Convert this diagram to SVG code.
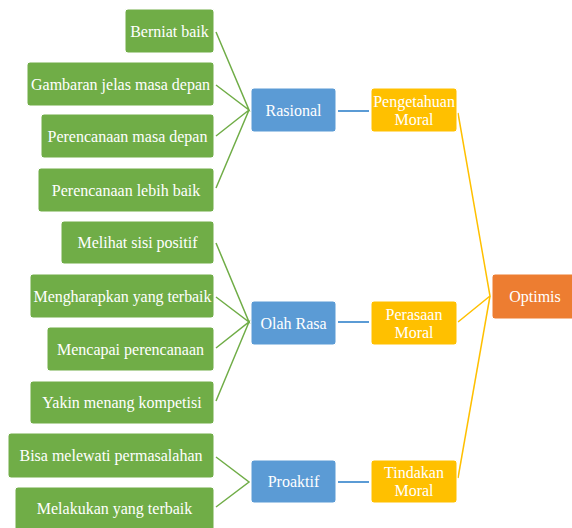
<svg xmlns="http://www.w3.org/2000/svg" width="572" height="528" viewBox="0 0 572 528">
<style>
  .g rect{fill:#70AD47;stroke:#fff;stroke-width:1}
  .b rect{fill:#5B9BD5;stroke:#fff;stroke-width:1}
  .y rect{fill:#FFC000;stroke:#fff;stroke-width:1}
  .o rect{fill:#ED7D31;stroke:#fff;stroke-width:1}
  text{font-size:16px;fill:#fff;text-anchor:middle;dominant-baseline:central}
  .lg{stroke:#70AD47;stroke-width:1.5;fill:none}
  .lb{stroke:#5B9BD5;stroke-width:2;fill:none}
  .ly{stroke:#FFC000;stroke-width:1.5;fill:none}
</style>
<rect width="572" height="528" fill="#fff"/>
<g id="connectors">
  <polyline class="lg" points="216,32 249,110 216,85"/>
  <polyline class="lg" points="216,136 249,110 216,188"/>
  <polyline class="lg" points="216,243 249,322 216,297"/>
  <polyline class="lg" points="216,348 249,322 216,401"/>
  <polyline class="lg" points="216,457 249,482 216,507"/>
  <line class="lb" x1="338" y1="111" x2="369" y2="111"/>
  <line class="lb" x1="338" y1="322" x2="369" y2="322"/>
  <line class="lb" x1="338" y1="482" x2="369" y2="482"/>
  <polyline class="ly" points="458,113 490,296 458,322"/>
  <line class="ly" x1="458" y1="478" x2="490" y2="296"/>
</g>
<g font-family="'Liberation Serif', 'DejaVu Serif', serif">
<g id="n1" class="g"><rect x="125" y="9" width="89" height="44" rx="3"/><text x="169.5" y="31">Berniat baik</text></g>
<g id="n2" class="g"><rect x="27" y="62" width="187" height="44" rx="3"/><text x="120.5" y="84">Gambaran jelas masa depan</text></g>
<g id="n3" class="g"><rect x="41" y="114" width="173" height="44" rx="3"/><text x="127.5" y="136">Perencanaan masa depan</text></g>
<g id="n4" class="g"><rect x="38" y="168" width="176" height="44" rx="3"/><text x="126" y="190">Perencanaan lebih baik</text></g>
<g id="n5" class="g"><rect x="61" y="221" width="153" height="43" rx="3"/><text x="137.5" y="242.5">Melihat sisi positif</text></g>
<g id="n6" class="g"><rect x="30" y="274" width="184" height="44" rx="3"/><text x="122.5" y="296" textLength="178" lengthAdjust="spacing">Mengharapkan yang terbaik</text></g>
<g id="n7" class="g"><rect x="47" y="327" width="167" height="44" rx="3"/><text x="130.5" y="349">Mencapai perencanaan</text></g>
<g id="n8" class="g"><rect x="30" y="381" width="184" height="43" rx="3"/><text x="122" y="402.5">Yakin menang kompetisi</text></g>
<g id="n9" class="g"><rect x="8" y="433" width="206" height="45" rx="3"/><text x="111" y="455.5">Bisa melewati permasalahan</text></g>
<g id="n10" class="g"><rect x="15" y="487" width="199" height="44" rx="3"/><text x="114.5" y="508.5">Melakukan yang terbaik</text></g>
<g id="rasional" class="b"><rect x="251" y="88" width="85" height="44" rx="3"/><text x="293.5" y="110">Rasional</text></g>
<g id="olahrasa" class="b"><rect x="251" y="301" width="85" height="44" rx="3"/><text x="293.5" y="323">Olah Rasa</text></g>
<g id="proaktif" class="b"><rect x="251" y="460" width="85" height="43" rx="3"/><text x="293.5" y="481.5">Proaktif</text></g>
<g id="pengetahuan" class="y"><rect x="371" y="88" width="86" height="44" rx="3"/><text x="414" y="101">Pengetahuan</text><text x="414" y="119">Moral</text></g>
<g id="perasaan" class="y"><rect x="371" y="301" width="86" height="44" rx="3"/><text x="414" y="314">Perasaan</text><text x="414" y="332">Moral</text></g>
<g id="tindakan" class="y"><rect x="371" y="460" width="86" height="43" rx="3"/><text x="414" y="472.5">Tindakan</text><text x="414" y="490.5">Moral</text></g>
<g id="optimis" class="o"><rect x="492" y="274" width="86" height="45" rx="3"/><text x="535" y="296.5">Optimis</text></g>
</g>
</svg>
